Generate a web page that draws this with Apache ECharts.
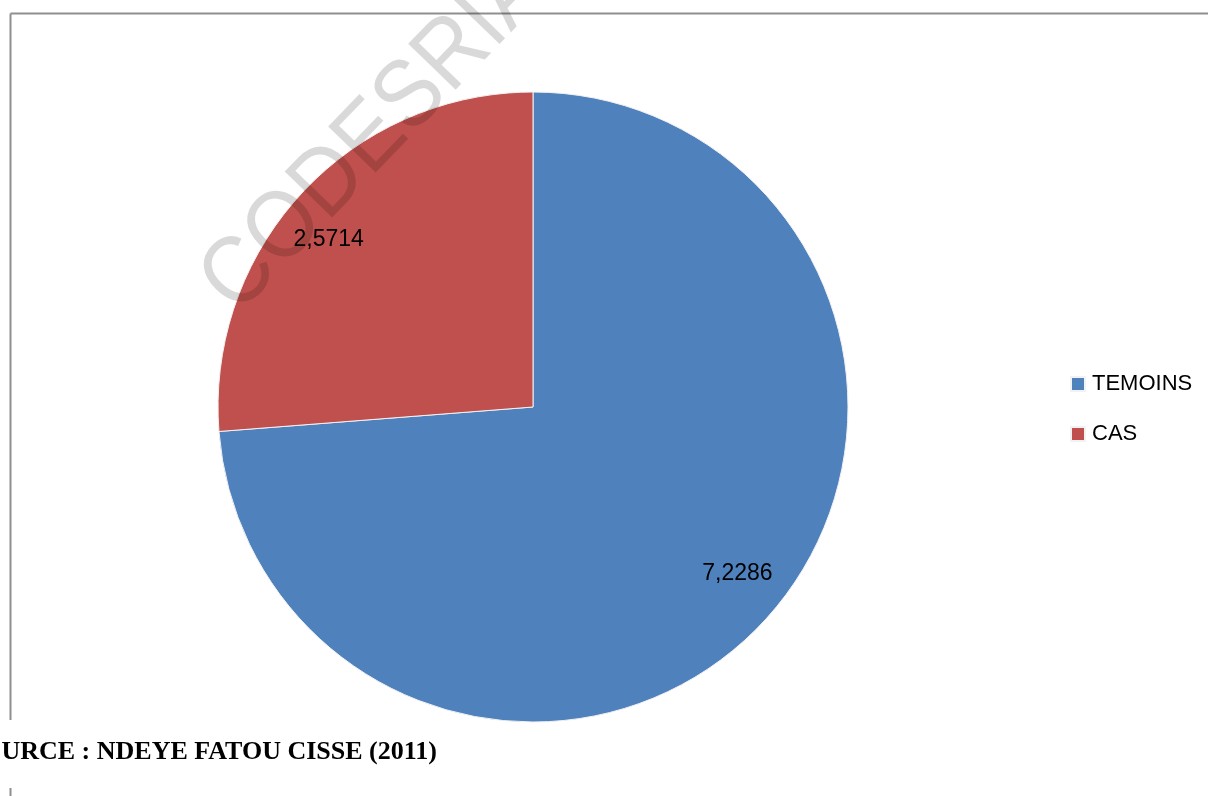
<!DOCTYPE html>
<html>
<head>
<meta charset="utf-8">
<script src="https://cdn.jsdelivr.net/npm/echarts@6/dist/echarts.min.js"></script>
<style>
  html, body { margin: 0; padding: 0; background: #fff; }
  #chart { width: 1208px; height: 796px; }
</style>
</head>
<body>
<div id="chart"></div>
<script>
// categories and values
var categories = ['TEMOINS', 'CAS'];
var values = [7.2286, 2.5714];
var colors = ['#4F81BD', '#C0504D'];
var sourceText = 'URCE : NDEYE FATOU CISSE (2011)';
var watermark = 'CODESRIA';

var pieData = categories.map(function (name, i) {
  return { name: name, value: values[i], itemStyle: { color: colors[i] } };
});
var labelData = categories.map(function (name, i) {
  return { name: name, value: values[i] };
});

var myChart = echarts.init(document.getElementById('chart'));
var option = {
  backgroundColor: '#fff',
  animation: false,
  legend: {
    orient: 'vertical',
    left: 1070,
    top: 373,
    padding: 0,
    itemWidth: 14,
    itemHeight: 14,
    itemGap: 28,
    icon: 'rect',
    textStyle: { fontFamily: 'Liberation Sans', fontSize: 22, color: '#000', padding: [0, 0, 0, 2] },
    data: categories.map(function (name, i) {
      return { name: name, itemStyle: { color: colors[i] } };
    })
  },
  series: [
    {
      // the slices
      name: 'pie',
      type: 'pie',
      center: [533, 407],
      radius: 315,
      startAngle: 90,
      clockwise: true,
      label: { show: false },
      labelLine: { show: false },
      itemStyle: { borderColor: '#f2f2f2', borderWidth: 1 },
      emphasis: { disabled: true },
      data: pieData
    },
    {
      // labels only, placed a bit further out than the default inside spot
      name: 'labels',
      type: 'pie',
      center: [533, 407],
      radius: [207, 315],
      startAngle: 93.5,
      clockwise: true,
      silent: true,
      itemStyle: { color: 'rgba(0,0,0,0)' },
      label: {
        show: true,
        position: 'inner',
        fontFamily: 'Liberation Sans',
        fontSize: 23,
        color: '#000',
        formatter: function (p) { return String(p.value).replace('.', ','); }
      },
      labelLine: { show: false },
      emphasis: { disabled: true },
      data: labelData
    }
  ],
  graphic: [
    // frame lines
    { type: 'line', shape: { x1: 10.5, y1: 13.5, x2: 1208, y2: 13.5 }, style: { stroke: '#8f8f8f', lineWidth: 2 } },
    { type: 'line', shape: { x1: 10.5, y1: 13.5, x2: 10.5, y2: 720 }, style: { stroke: '#8f8f8f', lineWidth: 2 } },
    { type: 'line', shape: { x1: 10.5, y1: 788, x2: 10.5, y2: 796 }, style: { stroke: '#8f8f8f', lineWidth: 2 } },
    // source line
    {
      type: 'text',
      x: 437, y: 752,
      style: {
        text: sourceText,
        fontFamily: 'Liberation Serif',
        fontWeight: 'bold',
        fontSize: 26,
        fill: '#000',
        align: 'right',
        verticalAlign: 'middle'
      }
    },
    // watermark, darkens whatever is under it
    {
      type: 'text',
      x: 375, y: 135,
      rotation: 0.803,
      scaleX: 0.9,
      z: 100,
      silent: true,
      style: {
        text: watermark,
        fontFamily: 'Liberation Sans',
        fontSize: 96,
        fill: 'rgba(0,0,0,0.15)',
        align: 'center',
        verticalAlign: 'middle'
      }
    }
  ]
};
myChart.setOption(option);
</script>
</body>
</html>
